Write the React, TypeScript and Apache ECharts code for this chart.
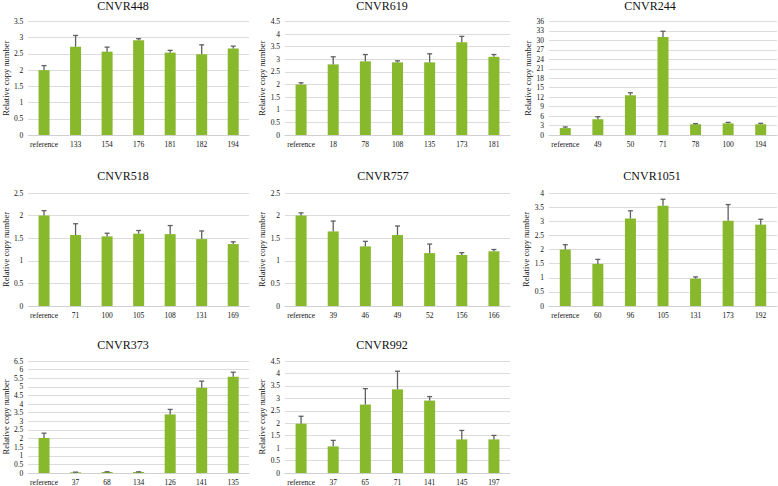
import React, { useEffect, useRef } from "react";
import * as echarts from "echarts";

const cats448 = ["reference", "133", "154", "176", "181", "182", "194"];
const vals448 = [2.0, 2.72, 2.57, 2.92, 2.54, 2.49, 2.67];
const errs448 = [0.14, 0.35, 0.14, 0.05, 0.07, 0.29, 0.07];

const cats619 = ["reference", "18", "78", "108", "135", "173", "181"];
const vals619 = [2.0, 2.8, 2.92, 2.88, 2.88, 3.68, 3.1];
const errs619 = [0.07, 0.3, 0.27, 0.06, 0.34, 0.23, 0.09];

const cats244 = ["reference", "49", "50", "71", "78", "100", "194"];
const vals244 = [2.2, 5.0, 12.6, 31.1, 3.4, 3.7, 3.4];
const errs244 = [0.35, 0.8, 0.8, 1.8, 0.2, 0.3, 0.3];

const cats518 = ["reference", "71", "100", "105", "108", "131", "169"];
const vals518 = [2.0, 1.57, 1.54, 1.6, 1.59, 1.48, 1.37];
const errs518 = [0.11, 0.25, 0.07, 0.07, 0.19, 0.18, 0.05];

const cats757 = ["reference", "39", "46", "49", "52", "156", "166"];
const vals757 = [2.0, 1.65, 1.32, 1.57, 1.17, 1.13, 1.21];
const errs757 = [0.06, 0.23, 0.11, 0.2, 0.2, 0.05, 0.04];

const cats1051 = ["reference", "60", "96", "105", "131", "173", "192"];
const vals1051 = [2.0, 1.49, 3.1, 3.55, 0.97, 3.02, 2.88];
const errs1051 = [0.17, 0.16, 0.27, 0.23, 0.06, 0.57, 0.19];

const cats373 = ["reference", "37", "68", "134", "126", "141", "135"];
const vals373 = [2.03, 0.04, 0.06, 0.06, 3.4, 4.95, 5.58];
const errs373 = [0.28, 0.01, 0.01, 0.01, 0.29, 0.38, 0.27];

const cats992 = ["reference", "37", "65", "71", "141", "145", "197"];
const vals992 = [1.98, 1.07, 2.75, 3.36, 2.91, 1.35, 1.35];
const errs992 = [0.3, 0.24, 0.64, 0.73, 0.16, 0.36, 0.16];

const panels = [
  { title: "CNVR448", cats: cats448, vals: vals448, errs: errs448, max: 3.5, interval: 0.5, left: 24, top: 21.5, width: 225, height: 113.5, tx: 123, ty: 0 },
  { title: "CNVR619", cats: cats619, vals: vals619, errs: errs619, max: 4.5, interval: 0.5, left: 285, top: 21.5, width: 225, height: 113.5, tx: 382, ty: 0 },
  { title: "CNVR244", cats: cats244, vals: vals244, errs: errs244, max: 36, interval: 3, left: 549, top: 21.5, width: 228, height: 113.5, tx: 650, ty: 0 },
  { title: "CNVR518", cats: cats518, vals: vals518, errs: errs518, max: 2.5, interval: 0.5, left: 24, top: 193, width: 225, height: 113, tx: 123, ty: 170 },
  { title: "CNVR757", cats: cats757, vals: vals757, errs: errs757, max: 2.5, interval: 0.5, left: 285, top: 193, width: 225, height: 113, tx: 383, ty: 170 },
  { title: "CNVR1051", cats: cats1051, vals: vals1051, errs: errs1051, max: 4, interval: 0.5, left: 549, top: 193, width: 228, height: 113, tx: 652, ty: 170 },
  { title: "CNVR373", cats: cats373, vals: vals373, errs: errs373, max: 6.5, interval: 0.5, left: 24, top: 361, width: 225, height: 113, tx: 123, ty: 338.5 },
  { title: "CNVR992", cats: cats992, vals: vals992, errs: errs992, max: 4.5, interval: 0.5, left: 285, top: 361, width: 225, height: 113, tx: 382, ty: 338.5 },
];

const FONT = "Liberation Serif, Times New Roman, serif";
const BAR = "#88b82c";
const ERR = "#5f6063";

export default function App() {
  const ref = useRef<HTMLDivElement>(null);
  useEffect(() => {
    if (!ref.current) return;
    const chart = echarts.init(ref.current, null, { renderer: "svg" });
    const grid: any[] = [];
    const xAxis: any[] = [];
    const yAxis: any[] = [];
    const series: any[] = [];
    const title: any[] = [];
    panels.forEach((p, i) => {
      grid.push({ left: p.left, top: p.top, width: p.width, height: p.height, containLabel: false });
      xAxis.push({
        type: "category",
        gridIndex: i,
        data: p.cats,
        axisLine: { show: true, lineStyle: { color: "#d0d0d0", width: 1 } },
        axisTick: { show: false },
        axisLabel: { color: "#111", fontFamily: FONT, fontSize: 7.5, margin: 5, interval: 0 },
      });
      yAxis.push({
        type: "value",
        gridIndex: i,
        min: 0,
        max: p.max,
        interval: p.interval,
        name: "Relative copy number",
        nameLocation: "middle",
        nameGap: 16,
        nameTextStyle: { color: "#111", fontFamily: FONT, fontSize: 8.5 },
        axisLine: { show: false },
        axisTick: { show: false },
        axisLabel: { color: "#111", fontFamily: FONT, fontSize: 7.5, margin: 5 },
        splitLine: { show: true, lineStyle: { color: "#dcdcdc", width: 1 } },
      });
      series.push({
        type: "bar",
        xAxisIndex: i,
        yAxisIndex: i,
        data: p.vals,
        barWidth: 11,
        itemStyle: { color: BAR },
        z: 2,
      });
      series.push({
        type: "custom",
        xAxisIndex: i,
        yAxisIndex: i,
        data: p.vals.map((v, k) => [k, v, v + p.errs[k]]),
        encode: { x: 0, y: [1, 2] },
        z: 3,
        renderItem: (params: any, api: any) => {
          const x = api.value(0);
          const lo = api.coord([x, api.value(1)]);
          const hi = api.coord([x, api.value(2)]);
          const style = { stroke: ERR, lineWidth: 1.3 };
          return {
            type: "group",
            children: [
              { type: "line", shape: { x1: lo[0], y1: lo[1], x2: hi[0], y2: hi[1] }, style },
              { type: "line", shape: { x1: hi[0] - 2.5, y1: hi[1], x2: hi[0] + 2.5, y2: hi[1] }, style },
            ],
          };
        },
      });
      title.push({
        text: p.title,
        left: p.tx,
        top: p.ty,
        padding: 0,
        textAlign: "center",
        textStyle: { color: "#111", fontSize: 12, fontFamily: FONT, fontWeight: "normal" },
      });
    });
    chart.setOption({
      animation: false,
      backgroundColor: "#ffffff",
      title,
      grid,
      xAxis,
      yAxis,
      series,
    });
    return () => chart.dispose();
  }, []);
  return (
    <div
      ref={ref}
      style={{ position: "fixed", left: 0, top: 0, width: 778, height: 486, background: "#fff" }}
    />
  );
}
